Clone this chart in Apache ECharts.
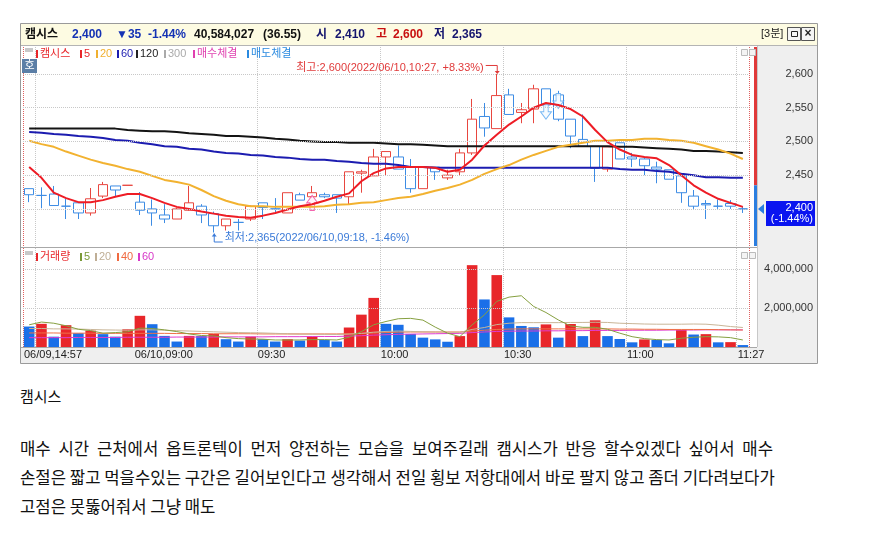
<!DOCTYPE html>
<html>
<head>
<meta charset="utf-8">
<script src="https://cdn.jsdelivr.net/npm/echarts@6/dist/echarts.min.js"></script>
<style>
  body { margin: 0; background: #fff; }
  #chart { position: absolute; left: 0; top: 0; width: 888px; height: 370px; }
  .t { position: absolute; left: 20px; font-family: 'Noto Sans CJK KR', sans-serif; font-size: 16.7px; color: #111; white-space: nowrap; line-height: 20px; }
  .h { font-size: 15px; }
  .w { word-spacing: 4px; }
</style>
</head>
<body>
<div id="chart"></div>
<div class="t h" style="top:386px">캠시스</div>
<div class="t w" style="top:438px">매수 시간 근처에서 옵트론텍이 먼저 양전하는 모습을 보여주길래 캠시스가 반응 할수있겠다 싶어서 매수</div>
<div class="t" style="top:467px">손절은 짧고 먹을수있는 구간은 길어보인다고 생각해서 전일 횡보 저항대에서 바로 팔지 않고 좀더 기다려보다가</div>
<div class="t" style="top:496px">고점은 못뚫어줘서 그냥 매도</div>
<script>
// 3분봉: 06/09 마지막 9개 + 06/10 09:00 ~ 11:27
const times = [
  '06/09,14:57', '06/09,15:00', '06/09,15:03', '06/09,15:06', '06/09,15:09', '06/09,15:12', '06/09,15:15', '06/09,15:18', '06/09,15:30',
  '06/10,09:00', '06/10,09:03', '06/10,09:06', '06/10,09:09', '06/10,09:12', '06/10,09:15', '06/10,09:18', '06/10,09:21', '06/10,09:24', '06/10,09:27',
  '06/10,09:30', '06/10,09:33', '06/10,09:36', '06/10,09:39', '06/10,09:42', '06/10,09:45', '06/10,09:48', '06/10,09:51', '06/10,09:54', '06/10,09:57',
  '06/10,10:00', '06/10,10:03', '06/10,10:06', '06/10,10:09', '06/10,10:12', '06/10,10:15', '06/10,10:18', '06/10,10:21', '06/10,10:24', '06/10,10:27',
  '06/10,10:30', '06/10,10:33', '06/10,10:36', '06/10,10:39', '06/10,10:42', '06/10,10:45', '06/10,10:48', '06/10,10:51', '06/10,10:54', '06/10,10:57',
  '06/10,11:00', '06/10,11:03', '06/10,11:06', '06/10,11:09', '06/10,11:12', '06/10,11:15', '06/10,11:18', '06/10,11:21', '06/10,11:24', '06/10,11:27'
];
const openP = [2430, 2420, 2422, 2404, 2409, 2394, 2419, 2434, 2435, 2410,
  2400, 2391, 2385, 2398, 2404, 2393, 2375, 2380, 2385, 2409,
  2400, 2394, 2421, 2418, 2421, 2421, 2418, 2453, 2449, 2477,
  2477, 2462, 2430, 2462, 2446, 2455, 2483, 2537, 2519, 2569,
  2543, 2548, 2578, 2569, 2533, 2503, 2493, 2459, 2498, 2477,
  2474, 2462, 2458, 2449, 2419, 2408, 2404, 2408, 2400];
const closeP = [2421, 2420, 2405, 2404, 2394, 2415, 2436, 2428, 2435, 2398,
  2394, 2385, 2400, 2409, 2391, 2375, 2385, 2380, 2404, 2402,
  2400, 2424, 2413, 2424, 2418, 2416, 2455, 2455, 2477, 2485,
  2459, 2430, 2462, 2455, 2450, 2483, 2533, 2520, 2568, 2540,
  2547, 2578, 2554, 2533, 2508, 2493, 2460, 2492, 2474, 2474,
  2464, 2459, 2444, 2424, 2404, 2406, 2404, 2404, 2400];
const lowP = [2410, 2401, 2405, 2385, 2385, 2390, 2416, 2419, 2435, 2391,
  2375, 2379, 2385, 2397, 2379, 2365, 2368, 2368, 2382, 2385,
  2394, 2394, 2413, 2416, 2416, 2394, 2407, 2424, 2449, 2449,
  2459, 2424, 2430, 2443, 2443, 2449, 2480, 2507, 2519, 2540,
  2527, 2527, 2550, 2530, 2490, 2493, 2440, 2455, 2474, 2462,
  2450, 2438, 2444, 2409, 2400, 2385, 2400, 2400, 2394];
const highP = [2430, 2432, 2434, 2415, 2409, 2431, 2440, 2434, 2435, 2425,
  2414, 2407, 2402, 2434, 2407, 2396, 2385, 2385, 2405, 2409,
  2416, 2424, 2424, 2434, 2424, 2421, 2455, 2458, 2489, 2485,
  2494, 2474, 2462, 2462, 2458, 2489, 2563, 2557, 2600, 2578,
  2557, 2584, 2578, 2575, 2533, 2540, 2493, 2492, 2498, 2483,
  2477, 2470, 2458, 2449, 2428, 2413, 2414, 2413, 2403];
const ma5 = [2462, 2446, 2424, 2416, 2410, 2410, 2413, 2418, 2422, 2422,
  2416, 2409, 2403, 2400, 2396, 2393, 2390, 2388, 2387, 2390,
  2394, 2399, 2404, 2407, 2412, 2418, 2423, 2441, 2453, 2460,
  2462, 2462, 2462, 2461, 2455, 2458, 2473, 2494, 2510, 2525,
  2537, 2550, 2557, 2554, 2548, 2537, 2517, 2499, 2488, 2480,
  2477, 2475, 2465, 2450, 2435, 2424, 2415, 2409, 2403];
const ma20 = [2501, 2496, 2492, 2485, 2479, 2473, 2468, 2464, 2459, 2455,
  2449, 2443, 2440, 2436, 2428, 2419, 2412, 2407, 2404, 2404,
  2403, 2403, 2403, 2403, 2404, 2406, 2407, 2409, 2410, 2413,
  2416, 2418, 2422, 2427, 2431, 2436, 2443, 2452, 2459, 2465,
  2473, 2480, 2486, 2492, 2495, 2498, 2501, 2501, 2502, 2502,
  2504, 2504, 2502, 2501, 2498, 2493, 2488, 2482, 2474];
const ma60 = [2514, 2513, 2511, 2510, 2508, 2507, 2505, 2502, 2501, 2498,
  2496, 2493, 2492, 2489, 2488, 2485, 2483, 2482, 2480, 2479,
  2477, 2476, 2474, 2473, 2473, 2471, 2470, 2468, 2467, 2467,
  2465, 2462, 2462, 2461, 2461, 2461, 2461, 2461, 2461, 2461,
  2461, 2461, 2461, 2461, 2461, 2461, 2461, 2461, 2459, 2458,
  2458, 2456, 2455, 2452, 2450, 2447, 2447, 2446, 2446];
const ma120 = [2519, 2519, 2519, 2519, 2519, 2519, 2519, 2519, 2517, 2516,
  2515, 2515, 2514, 2512, 2511, 2510, 2508, 2508, 2507, 2506,
  2504, 2503, 2501, 2500, 2499, 2499, 2498, 2498, 2498, 2497,
  2496, 2496, 2495, 2494, 2493, 2493, 2493, 2493, 2493, 2493,
  2493, 2493, 2493, 2493, 2493, 2493, 2493, 2493, 2492, 2492,
  2491, 2490, 2489, 2488, 2486, 2486, 2485, 2484, 2483];
const volume = [1050000, 1190000, 530000, 1120000, 710000, 840000, 660000, 530000, 910000, 1600000,
  1170000, 570000, 280000, 570000, 560000, 670000, 400000, 280000, 530000, 400000,
  280000, 400000, 330000, 530000, 360000, 280000, 1000000, 1660000, 2520000, 1190000,
  1140000, 670000, 480000, 390000, 270000, 560000, 4200000, 2440000, 3690000, 1520000,
  1080000, 1010000, 1160000, 480000, 1180000, 560000, 1370000, 560000, 410000, 240000,
  390000, 360000, 190000, 870000, 640000, 660000, 240000, 250000, 100000];
const volMa5 = [1140000, 1280000, 1220000, 1090000, 910000, 840000, 710000, 740000, 780000, 970000,
  950000, 880000, 790000, 670000, 590000, 570000, 480000, 430000, 410000, 400000,
  360000, 360000, 360000, 380000, 380000, 360000, 500000, 790000, 1140000, 1310000,
  1450000, 1470000, 1380000, 1020000, 710000, 530000, 1140000, 1650000, 2340000, 2560000,
  2630000, 2080000, 1770000, 1390000, 1080000, 1010000, 1010000, 910000, 710000, 530000,
  430000, 380000, 360000, 450000, 500000, 530000, 520000, 480000, 360000];
const volMa20 = [950000, 950000, 930000, 930000, 920000, 900000, 880000, 870000, 860000, 880000,
  880000, 860000, 840000, 820000, 800000, 780000, 760000, 740000, 730000, 720000,
  700000, 680000, 660000, 660000, 650000, 640000, 660000, 700000, 760000, 800000,
  820000, 800000, 780000, 770000, 760000, 750000, 900000, 1000000, 1150000, 1220000,
  1250000, 1250000, 1250000, 1250000, 1260000, 1260000, 1270000, 1260000, 1220000, 1200000,
  1180000, 1170000, 1170000, 1170000, 1180000, 1170000, 1120000, 1050000, 1000000];
const volMa40 = [720000, 720000, 720000, 710000, 710000, 710000, 700000, 700000, 700000, 700000,
  700000, 700000, 690000, 690000, 690000, 680000, 680000, 680000, 680000, 670000,
  670000, 670000, 670000, 670000, 670000, 670000, 680000, 690000, 720000, 740000,
  760000, 770000, 770000, 770000, 770000, 770000, 820000, 860000, 900000, 920000,
  930000, 930000, 930000, 930000, 930000, 930000, 930000, 930000, 920000, 920000,
  910000, 910000, 900000, 900000, 900000, 900000, 890000, 880000, 870000];
const volMa60 = [480000, 480000, 480000, 480000, 490000, 490000, 490000, 490000, 500000, 500000,
  500000, 500000, 510000, 510000, 510000, 510000, 520000, 520000, 520000, 520000,
  530000, 530000, 530000, 540000, 540000, 540000, 560000, 580000, 610000, 630000,
  650000, 660000, 670000, 680000, 690000, 700000, 740000, 770000, 800000, 810000,
  820000, 820000, 830000, 830000, 840000, 840000, 850000, 850000, 850000, 860000,
  860000, 860000, 870000, 870000, 870000, 880000, 880000, 880000, 880000];
const priceTicks = [2400, 2450, 2500, 2550, 2600];
const volTicks = [2000000, 4000000];
const labelIdx = [0, 9, 19, 29, 39, 49, 58];
const gridIdx = [1, 19, 29, 39, 49, 58];
const dayIdx = 9;
const prevClose = 2435;
const lastPrice = 2400;
const highMark = [38, 2600];
const lowMark = [15, 2365];
const buyMarks = [[23, 2409]];
const sellMarks = [[42, 2544], [43, 2560]];

const FONT = "'Liberation Sans', 'Noto Sans CJK KR', sans-serif";
const UP = '#e8262a', DOWN = '#1a6fe8';

const chart = echarts.init(document.getElementById('chart'));

function catAxis(grid, color, test) {
  return {
    type: 'category', gridIndex: grid, data: times, boundaryGap: true,
    axisLine: { show: false }, axisTick: { show: false }, axisLabel: { show: false },
    splitLine: { show: true, interval: (i) => test(i), lineStyle: { color: color, type: 'dotted', width: 1 } }
  };
}
const fmt = (v) => v.toLocaleString('en-US');

const option = {
  animation: false,
  textStyle: { fontFamily: FONT },
  grid: [
    { left: 23, right: 139, top: 47, height: 199 },
    { left: 23, right: 139, top: 248, height: 99 }
  ],
  xAxis: [
    catAxis(0, '#c8c8c8', (i) => gridIdx.includes(i)),
    catAxis(0, '#e06060', (i) => i === dayIdx),
    catAxis(1, '#c8c8c8', (i) => gridIdx.includes(i)),
    catAxis(1, '#e06060', (i) => i === dayIdx)
  ],
  yAxis: [
    {
      type: 'value', gridIndex: 0, position: 'right', min: 2345, max: 2640, splitNumber: 6,
      splitLine: { show: false }, axisLine: { show: false }, axisTick: { show: false },
      axisLabel: { formatter: (v) => priceTicks.includes(v) ? fmt(v) : '', margin: 64, align: 'right', color: '#333', fontSize: 11 }
    },
    {
      type: 'value', gridIndex: 1, position: 'right', min: 0, max: 5080000,
      splitLine: { show: false }, axisLine: { show: false }, axisTick: { show: false },
      axisLabel: { formatter: (v) => volTicks.includes(v) ? fmt(v) : '', margin: 64, align: 'right', color: '#333', fontSize: 11 }
    }
  ],
  series: [
    {
      type: 'candlestick', xAxisIndex: 0, yAxisIndex: 0, barWidth: 10,
      data: times.map((t, i) => [openP[i], closeP[i], lowP[i], highP[i]]),
      itemStyle: { color: '#fff', color0: '#fff', borderColor: '#e8463f', borderColor0: '#3d8ce4', borderWidth: 1 },
      markLine: {
        silent: true, symbol: 'none', label: { show: false },
        lineStyle: { color: '#c8c8c8', type: 'dotted', width: 1 },
        data: priceTicks.map((v) => ({ yAxis: v }))
      }
    },
    { type: 'line', name: '120', xAxisIndex: 0, yAxisIndex: 0, data: ma120, symbol: 'none', lineStyle: { color: '#141414', width: 2 } },
    { type: 'line', name: '60', xAxisIndex: 0, yAxisIndex: 0, data: ma60, symbol: 'none', lineStyle: { color: '#1c1cb0', width: 2 } },
    { type: 'line', name: '20', xAxisIndex: 0, yAxisIndex: 0, data: ma20, symbol: 'none', lineStyle: { color: '#f2b230', width: 2 } },
    { type: 'line', name: '5', xAxisIndex: 0, yAxisIndex: 0, data: ma5, symbol: 'none', lineStyle: { color: '#ee1c25', width: 2 } },
    {
      type: 'scatter', xAxisIndex: 0, yAxisIndex: 0, data: buyMarks, symbolSize: [11, 15],
      symbol: 'path://M5,0 L10,5 L7,5 L7,10 L3,10 L3,5 L0,5 Z',
      itemStyle: { color: '#fff0f8', borderColor: '#f0409a', borderWidth: 1 }
    },
    {
      type: 'scatter', xAxisIndex: 0, yAxisIndex: 0, data: sellMarks, symbolSize: [11, 15],
      symbol: 'path://M3,0 L7,0 L7,5 L10,5 L5,10 L0,5 L3,5 Z',
      itemStyle: { color: '#f4faff', borderColor: '#5aa8f0', borderWidth: 1 }
    },
    {
      type: 'bar', xAxisIndex: 2, yAxisIndex: 1, data: volume, barCategoryGap: '14%',
      itemStyle: { color: (p) => (p.dataIndex > 0 && volume[p.dataIndex] > volume[p.dataIndex - 1]) ? UP : DOWN },
      markLine: {
        silent: true, symbol: 'none', label: { show: false },
        lineStyle: { color: '#c8c8c8', type: 'dotted', width: 1 },
        data: volTicks.map((v) => ({ yAxis: v }))
      }
    },
    { type: 'line', xAxisIndex: 2, yAxisIndex: 1, data: volMa60, symbol: 'none', lineStyle: { color: '#e03ccf', width: 1 } },
    { type: 'line', xAxisIndex: 2, yAxisIndex: 1, data: volMa40, symbol: 'none', lineStyle: { color: '#f07048', width: 1 } },
    { type: 'line', xAxisIndex: 2, yAxisIndex: 1, data: volMa20, symbol: 'none', lineStyle: { color: '#c9b597', width: 1 } },
    { type: 'line', xAxisIndex: 2, yAxisIndex: 1, data: volMa5, symbol: 'none', lineStyle: { color: '#86a040', width: 1 } }
  ]
};
chart.setOption(option);

// 배경, 범례, 주석
const g = [];
function rect(x, y, w, h, fill, stroke, z) {
  g.push({ type: 'rect', silent: true, z: z === undefined ? -10 : z, shape: { x: x, y: y, width: w, height: h },
    style: { fill: fill || 'none', stroke: stroke || 'none', lineWidth: 1 } });
}
function text(x, y, s, color, font, align, z) {
  g.push({ type: 'text', silent: true, z: z === undefined ? 50 : z, x: x, y: y,
    style: { text: s, fill: color, font: font, align: align || 'left', verticalAlign: 'middle',
      textAlign: align || 'left', textVerticalAlign: 'middle' } });
}
function line(pts, color, z) {
  g.push({ type: 'polyline', silent: true, z: z === undefined ? 50 : z, shape: { points: pts },
    style: { stroke: color, lineWidth: 1, fill: 'none' } });
}
function legend(x, y, s, color) {
  rect(x, y - 4, 2, 8, color, null, 50);
  text(x + 4, y, s, color, '11px ' + FONT);
}

// frame
rect(20.5, 23.5, 797, 340, '#efefef', '#9a9a9a', -20);
rect(21, 24, 796, 21, '#fdfbe2', null, -19);
line([[21, 45.5], [817, 45.5]], '#b4b4b4', -18);
rect(21, 46, 736, 201, '#ffffff', null, -15);
rect(21, 248, 736, 99, '#ffffff', null, -15);
line([[21, 247.5], [757, 247.5]], '#a8a8a8', -14);
line([[21, 347.5], [757, 347.5]], '#a8a8a8', -14);
line([[757.5, 46], [757.5, 347]], '#c8c8c8', -14);

// header
const HB = 'bold 12px ' + FONT;
text(25, 35, '캠시스', '#111', HB);
text(72, 35, '2,400', '#1432b4', HB);
text(116, 35, '▼35', '#1432b4', HB);
text(148, 35, '-1.44%', '#1432b4', HB);
text(194, 35, '40,584,027', '#111', HB);
text(263, 35, '(36.55)', '#111', HB);
text(316, 35, '시', '#14146e', HB);
text(335, 35, '2,410', '#14146e', HB);
text(376, 35, '고', '#c81010', HB);
text(393, 35, '2,600', '#c81010', HB);
text(434, 35, '저', '#14146e', HB);
text(452, 35, '2,365', '#14146e', HB);
text(761, 34, '[3분]', '#222', '11px ' + FONT);
rect(787.5, 27.5, 13, 13, '#f4f4f4', '#555', 40);
rect(791.5, 31.5, 6, 5, 'none', '#222', 41);
rect(801.5, 27.5, 13, 13, '#f4f4f4', '#555', 40);
text(808, 34, '×', '#222', 'bold 12px ' + FONT, 'center');

// price legend
rect(25, 48, 8, 4, '#c8c8c8', null, 40);
legend(36, 54, '캠시스', '#e8262a');
legend(80, 54, '5', '#e8262a');
legend(96, 54, '20', '#f0b030');
legend(117, 54, '60', '#1c1cb0');
legend(136, 54, '120', '#222');
legend(164, 54, '300', '#aaa');
legend(193, 54, '매수체결', '#e040b0');
legend(247, 54, '매도체결', '#2a8ae0');
rect(22, 59, 15, 14, '#5b7ea6', null, 40);
text(29.5, 66, '호', '#fff', '11px ' + FONT, 'center');
rect(741.5, 49.5, 6, 6, '#f4f4f4', '#bbb', 40);
rect(749.5, 49.5, 6, 6, '#f4f4f4', '#bbb', 40);

// volume legend
rect(25, 251, 8, 4, '#c8c8c8', null, 40);
legend(36, 257, '거래량', '#e8262a');
legend(80, 257, '5', '#7a9a38');
legend(95, 257, '20', '#bfae95');
legend(117, 257, '40', '#f06a40');
legend(138, 257, '60', '#d838c8');
rect(741.5, 252.5, 6, 6, '#f4f4f4', '#bbb', 40);
rect(749.5, 252.5, 6, 6, '#f4f4f4', '#bbb', 40);

// x axis labels at the left edge of their bars
const band = 726 / times.length;
labelIdx.forEach((i) => {
  const px = chart.convertToPixel({ xAxisIndex: 2 }, i) - band / 2 + 1;
  const s = (i === 0 || i === dayIdx) ? times[i] : times[i].split(',')[1];
  text(px, 355, s, '#222', '11px ' + FONT);
});

// 전일 종가 기준 red / blue bar on the price axis
const yPrev = chart.convertToPixel({ yAxisIndex: 0 }, prevClose);
const yTop = 47, yBot = 246;
rect(754, yTop, 3, yPrev - yTop, '#e03a3a', null, 30);
rect(754, yPrev, 3, yBot - yPrev, '#2a7ee0', null, 30);

// current price box
const yLast = chart.convertToPixel({ yAxisIndex: 0 }, lastPrice);
g.push({ type: 'polygon', silent: true, z: 45, shape: { points: [[758, yLast], [764, yLast - 5], [764, yLast + 5]] }, style: { fill: '#2a7ee0' } });
rect(766, yLast - 8, 49, 25, '#0a14f0', null, 45);
text(813, yLast - 1, fmt(lastPrice), '#fff', '11px ' + FONT, 'right', 46);
text(813, yLast + 10, '(-1.44%)', '#fff', '11px ' + FONT, 'right', 46);

// 최고 / 최저 annotation
const hp = chart.convertToPixel({ seriesIndex: 0 }, highMark);
line([[hp[0] - 11, hp[1] - 8.5], [hp[0] + 0.5, hp[1] - 8.5], [hp[0] + 0.5, hp[1] - 1]], '#e03a3a');
g.push({ type: 'polygon', silent: true, z: 50, shape: { points: [[hp[0] - 2, hp[1] - 3], [hp[0] + 3, hp[1] - 3], [hp[0] + 0.5, hp[1]]] }, style: { fill: '#e03a3a' } });
text(hp[0] - 13, hp[1] - 6, '최고:2,600(2022/06/10,10:27, +8.33%)', '#e03a3a', '11px ' + FONT, 'right');

const lp = chart.convertToPixel({ seriesIndex: 0 }, lowMark);
line([[lp[0] + 0.5, lp[1] + 1], [lp[0] + 0.5, lp[1] + 9.5], [lp[0] + 9, lp[1] + 9.5]], '#3a7ad8');
g.push({ type: 'polygon', silent: true, z: 50, shape: { points: [[lp[0] - 2, lp[1] + 4], [lp[0] + 3, lp[1] + 4], [lp[0] + 0.5, lp[1] + 1]] }, style: { fill: '#3a7ad8' } });
text(lp[0] + 11, lp[1] + 5, '최저:2,365(2022/06/10,09:18, -1.46%)', '#3a7ad8', '11px ' + FONT);

chart.setOption({ graphic: { elements: g } });
</script>
</body>
</html>
